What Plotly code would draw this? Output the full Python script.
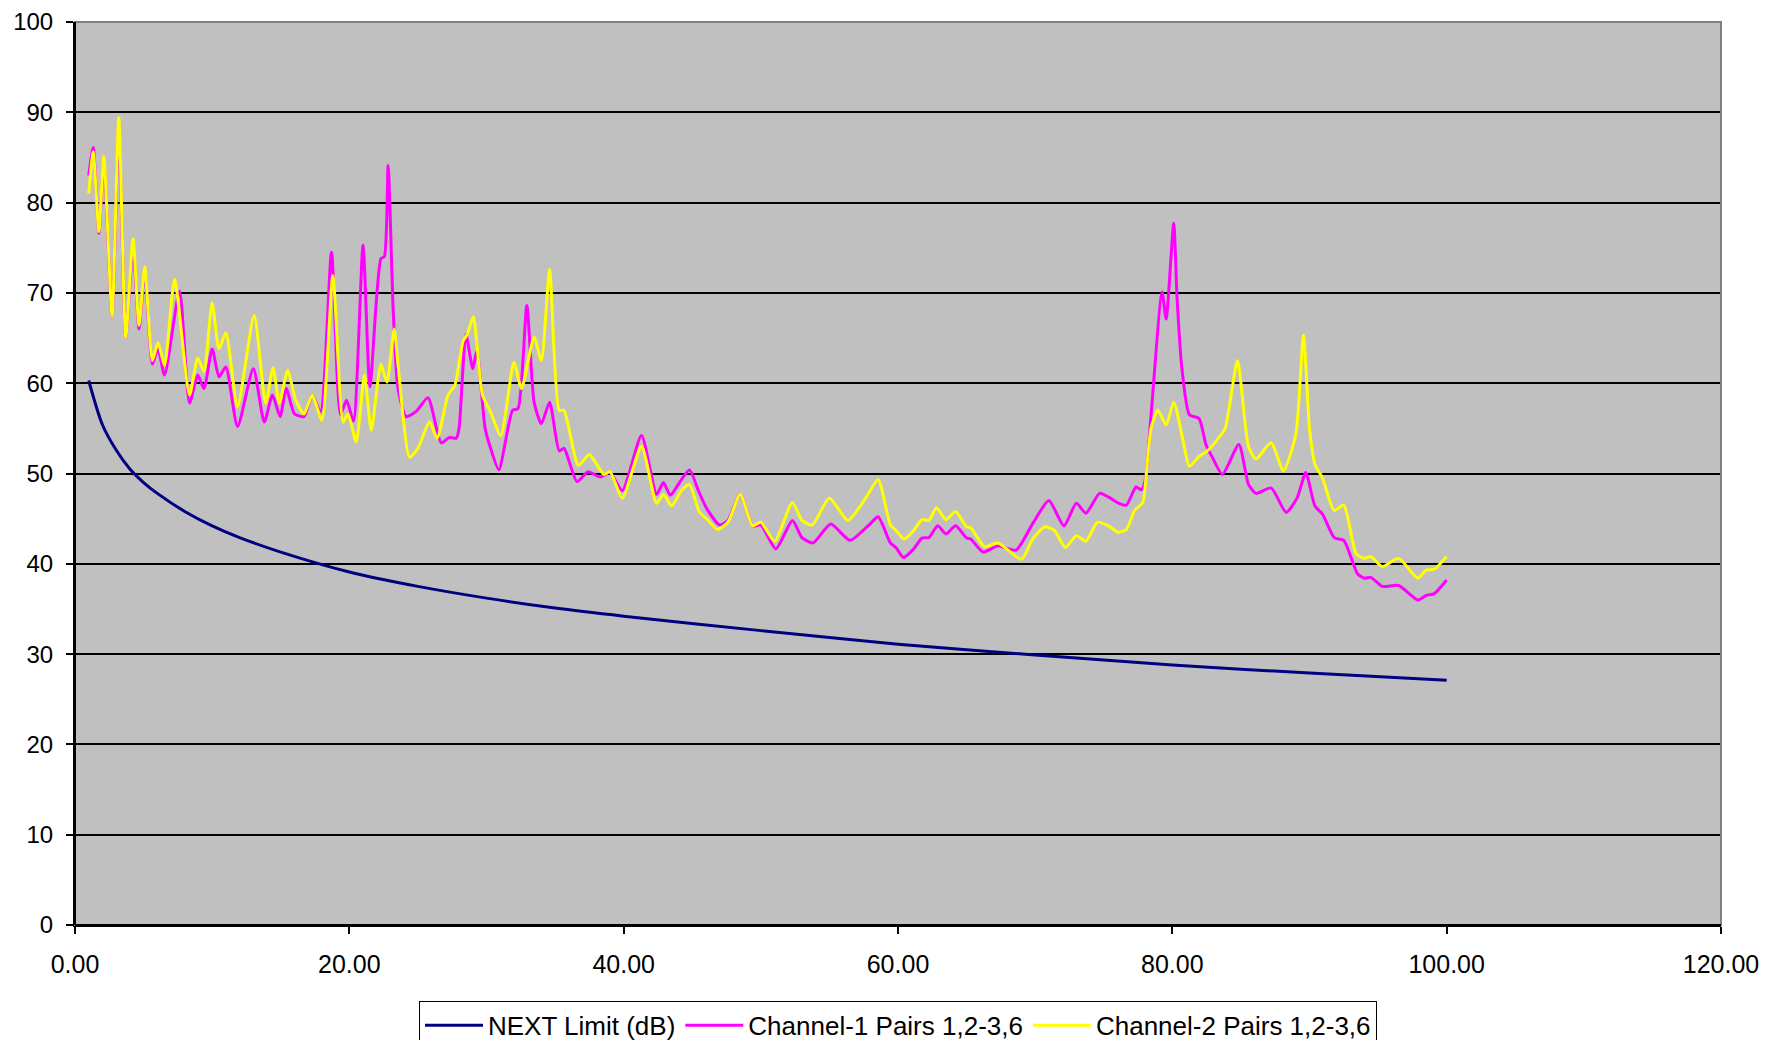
import plotly.graph_objects as go

# NEXT limit (dB)
next_freq = [1, 2, 3, 4, 5, 6, 8, 10, 12, 15, 20, 25, 30, 35, 40, 50, 60, 70, 80, 90, 100]
next_db = [60.3, 55.4, 52.6, 50.5, 49.0, 47.8, 45.8, 44.2, 42.9, 41.3, 39.1, 37.5, 36.2, 35.1,
           34.2, 32.6, 31.1, 29.9, 28.8, 27.9, 27.1]

# Channel-1 Pairs 1,2-3,6
ch1_freq = [1.0, 1.33, 1.74, 2.1, 2.7, 3.19, 3.7, 4.23, 4.67, 5.08, 5.64, 6.05, 6.53, 7.62, 8.35,
            8.95, 9.4, 10.0, 10.5, 11.0, 11.85, 13.0, 13.8, 14.4, 14.95, 15.4, 16.0, 16.7, 17.3,
            17.9, 18.7, 19.35, 19.8, 20.3, 21.0, 21.5, 22.3, 22.55, 22.83, 23.2, 23.55, 24.15,
            24.9, 25.73, 26.7, 27.3, 27.8, 28.0, 28.5, 29.0, 29.3, 29.9, 30.3, 30.9, 31.9, 32.3,
            32.94, 33.47, 34.0, 34.6, 35.3, 35.65, 36.6, 37.4, 38.3, 39.0, 39.9, 41.3, 42.4, 42.9,
            43.4, 44.2, 44.8, 45.5, 46.1, 47.0, 47.6, 48.5, 49.4, 50.0, 51.1, 52.3, 53.0, 53.8,
            55.1, 56.5, 57.95, 58.55, 59.45, 59.85, 60.4, 61.15, 61.75, 62.25, 62.9, 63.5, 64.2, 65.0,
            65.3, 66.2, 67.3, 68.6, 69.8, 71.0, 72.1, 73.0, 73.7, 74.7, 75.45, 76.1, 76.65, 77.35,
            77.75, 78.05, 78.45, 79.25, 79.55, 80.1, 80.35, 80.7, 81.25, 81.95, 82.45, 82.95, 83.65, 84.85,
            85.55, 86.1, 87.2, 88.3, 89.1, 89.73, 90.4, 90.95, 91.8, 92.5, 93.5, 94.0, 94.47, 95.3,
            96.5, 97.9, 98.5, 99.1, 100.0]
ch1_db = [83.0, 86.1, 76.6, 84.5, 67.5, 88.0, 65.1, 75.0, 66.0, 72.5, 62.1, 63.8, 60.9, 70.2, 57.8,
          60.9, 59.4, 63.8, 60.7, 61.8, 55.2, 61.6, 55.7, 58.7, 56.3, 59.4, 56.6, 56.3, 58.7,
          56.8, 74.5, 56.5, 58.1, 55.8, 75.3, 59.6, 73.8, 74.0, 84.1, 68.0, 59.4, 56.3,
          56.9, 58.4, 53.4, 54.0, 53.9, 55.0, 65.4, 61.6, 63.6, 55.0, 52.8, 50.4, 57.0, 57.2,
          68.6, 57.9, 55.5, 57.9, 52.5, 52.8, 49.1, 50.2, 49.6, 50.1, 48.1, 54.2, 47.7, 49.0,
          47.6, 49.3, 50.4, 47.9, 46.0, 44.3, 44.8, 47.7, 44.2, 44.3, 41.65, 44.8, 42.9, 42.3,
          44.4, 42.6, 44.4, 45.2, 42.3, 41.8, 40.7, 41.65, 42.85, 42.9, 44.2, 43.3, 44.2, 42.85,
          42.75, 41.3, 42.0, 41.5, 44.4, 47.0, 44.2, 46.7, 45.6, 47.8, 47.3, 46.7, 46.5, 48.5,
          48.2, 49.5, 56.5, 70.1, 67.1, 77.7, 69.3, 61.6, 56.5, 56.1, 53.2, 51.7, 49.9, 53.2,
          48.8, 47.8, 48.4, 45.7, 47.3, 50.1, 46.4, 45.5, 42.9, 42.6, 38.9, 38.4, 38.5, 37.5,
          37.6, 36.0, 36.5, 36.7, 38.2]

# Channel-2 Pairs 1,2-3,6
ch2_freq = [1.0, 1.33, 1.74, 2.1, 2.7, 3.19, 3.7, 4.23, 4.67, 5.08, 5.64, 6.05, 6.53, 7.26, 8.35,
            8.95, 9.4, 10.0, 10.5, 11.0, 11.85, 13.06, 13.9, 14.44, 14.9, 15.5, 16.1, 16.7, 17.3,
            18.0, 18.8, 19.55, 19.9, 20.5, 21.1, 21.6, 22.3, 22.74, 23.27, 23.55, 24.4, 25.0,
            25.85, 26.4, 27.2, 27.7, 28.3, 28.6, 29.04, 29.7, 30.3, 31.05, 32.0, 32.55, 33.47,
            34.0, 34.6, 35.3, 35.65, 36.7, 37.5, 38.55, 39.0, 39.9, 41.3, 42.4, 42.9, 43.5, 44.2,
            44.8, 45.5, 46.1, 46.85, 47.6, 48.5, 49.4, 50.0, 51.0, 52.3, 53.0, 53.75, 55.0,
            56.35, 57.65, 58.55, 59.45, 59.85, 60.45, 61.15, 61.75, 62.25, 62.8, 63.5, 64.2, 65.0, 65.3,
            66.3, 67.3, 69.0, 69.8, 70.7, 71.4, 72.2, 73.0, 73.7, 74.55, 75.35, 76.05, 76.65, 77.25,
            77.85, 78.05, 78.45, 78.95, 79.55, 80.1, 80.75, 81.25, 81.95, 82.55, 83.25, 83.85, 84.75, 85.55,
            86.1, 87.2, 88.1, 89.0, 89.56, 90.0, 90.4, 90.95, 91.8, 92.5, 93.4, 94.0, 94.47,
            95.3, 96.5, 97.9, 98.5, 99.1, 100.0]
ch2_db = [81.0, 85.6, 76.8, 85.1, 67.5, 89.4, 65.1, 76.0, 66.4, 72.9, 62.5, 64.5, 62.0, 71.5, 58.7,
          62.8, 61.3, 68.9, 63.8, 65.6, 57.4, 67.5, 57.8, 61.7, 57.8, 61.4, 58.1, 56.6, 58.7,
          55.9, 71.9, 55.7, 56.6, 53.5, 60.9, 54.8, 62.1, 60.1, 66.0, 62.0, 51.8, 52.8,
          55.7, 53.9, 58.7, 59.8, 64.7, 65.4, 67.4, 58.7, 56.8, 54.2, 62.3, 59.4, 65.1,
          62.5, 72.6, 57.0, 57.0, 50.9, 52.1, 49.9, 50.2, 47.3, 53.0, 46.7, 47.7, 46.4, 48.1,
          48.8, 45.8, 44.9, 43.8, 44.6, 47.7, 44.2, 44.6, 42.5, 46.8, 44.8, 44.3, 47.3,
          44.8, 47.3, 49.3, 44.3, 43.7, 42.75, 43.7, 44.9, 44.8, 46.2, 44.9, 45.8, 44.1, 44.0,
          41.9, 42.3, 40.5, 42.7, 44.1, 43.7, 41.8, 43.1, 42.5, 44.6, 44.2, 43.5, 43.8, 45.9,
          46.8, 49.1, 55.0, 57.0, 55.4, 57.9, 53.9, 50.8, 51.9, 52.5, 53.7, 55.0, 62.5, 53.0,
          51.6, 53.4, 50.3, 54.3, 65.3, 55.0, 51.0, 49.5, 45.9, 46.5, 41.1, 40.6, 40.8,
          39.7, 40.6, 38.4, 39.3, 39.4, 40.8]

x_ticks = [0, 20, 40, 60, 80, 100, 120]
y_ticks = [0, 10, 20, 30, 40, 50, 60, 70, 80, 90, 100]

FONT = "Arial, Liberation Sans, sans-serif"

fig = go.Figure()
fig.add_trace(go.Scatter(x=next_freq, y=next_db, mode="lines", name="NEXT Limit (dB)",
                         line=dict(color="#000080", width=3, shape="spline", smoothing=0.8)))
fig.add_trace(go.Scatter(x=ch1_freq, y=ch1_db, mode="lines", name="Channel-1 Pairs 1,2-3,6",
                         line=dict(color="#FF00FF", width=3, shape="spline", smoothing=0.6)))
fig.add_trace(go.Scatter(x=ch2_freq, y=ch2_db, mode="lines", name="Channel-2 Pairs 1,2-3,6",
                         line=dict(color="#FFFF00", width=3, shape="spline", smoothing=0.6)))

fig.update_layout(
    width=1776, height=1032, autosize=False,
    margin=dict(l=67, r=63, t=14, b=115, autoexpand=False),
    paper_bgcolor="white", plot_bgcolor="#C0C0C0",
    font=dict(family=FONT, size=24, color="black"),
    showlegend=True,
    legend=dict(orientation="h", xref="paper", x=0.5, xanchor="center",
                yref="container", y=0.038, yanchor="top",
                bgcolor="white", bordercolor="black", borderwidth=1,
                font=dict(family=FONT, size=26, color="black"),
                itemwidth=58, tracegroupgap=0),
    xaxis=dict(range=[0, 120], tickvals=x_ticks, ticktext=[f"{v:.2f}" for v in x_ticks],
               automargin=False, ticklabeloverflow="allow",
               showgrid=False, zeroline=False, showline=True, linecolor="black", linewidth=2,
               ticks="outside", ticklen=7, tickcolor="black", tickwidth=2,
               ticklabelstandoff=9, tickfont=dict(family=FONT, size=25)),
    yaxis=dict(range=[0, 100], tickvals=y_ticks, automargin=False, ticklabeloverflow="allow",
               showgrid=True, gridcolor="black", gridwidth=1.5,
               zeroline=False, showline=True, linecolor="black", linewidth=2,
               ticks="outside", ticklen=7, tickcolor="black", tickwidth=2,
               ticklabelstandoff=8, tickfont=dict(family=FONT, size=24)),
)
fig.add_shape(type="rect", xref="paper", yref="paper", x0=0, x1=1, y0=0, y1=1,
              line=dict(color="#808080", width=2), layer="above")
fig.add_shape(type="line", xref="paper", yref="paper", x0=0, x1=0, y0=0, y1=1,
              line=dict(color="black", width=2), layer="above")
fig.add_shape(type="line", xref="paper", yref="paper", x0=0, x1=1, y0=0, y1=0,
              line=dict(color="black", width=2), layer="above")

fig.write_html("out.html")
